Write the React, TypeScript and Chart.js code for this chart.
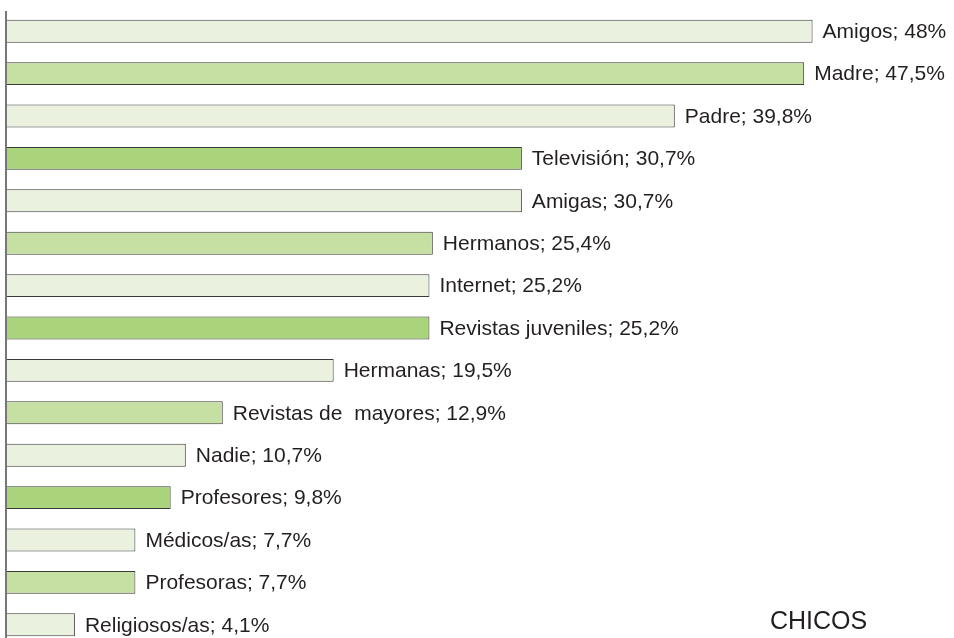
import React, { useEffect, useRef } from "react";
import { Chart, registerables } from "chart.js";

Chart.register(...registerables);

const categories = [
  "Amigos",
  "Madre",
  "Padre",
  "Televisión",
  "Amigas",
  "Hermanos",
  "Internet",
  "Revistas juveniles",
  "Hermanas",
  "Revistas de  mayores",
  "Nadie",
  "Profesores",
  "Médicos/as",
  "Profesoras",
  "Religiosos/as",
];

const values = [48, 47.5, 39.8, 30.7, 30.7, 25.4, 25.2, 25.2, 19.5, 12.9, 10.7, 9.8, 7.7, 7.7, 4.1];

const valueLabels = ["48%", "47,5%", "39,8%", "30,7%", "30,7%", "25,4%", "25,2%", "25,2%", "19,5%", "12,9%", "10,7%", "9,8%", "7,7%", "7,7%", "4,1%"];

const LIGHT = "#eaf2df";
const MEDIUM = "#c6e0a4";
const DARK = "#a9d47b";
const barColors = [LIGHT, MEDIUM, LIGHT, DARK, LIGHT, MEDIUM, LIGHT, DARK, LIGHT, MEDIUM, LIGHT, DARK, LIGHT, MEDIUM, LIGHT];

const title = "CHICOS";

const FONT = "'Liberation Sans', Arial, Helvetica, sans-serif";

const labelPlugin = {
  id: "barLabels",
  afterDatasetsDraw(chart: any) {
    const ctx = chart.ctx;
    const meta = chart.getDatasetMeta(0);
    ctx.save();
    ctx.fillStyle = "#231f20";
    ctx.font = `21px ${FONT}`;
    ctx.textBaseline = "middle";
    ctx.textAlign = "left";
    meta.data.forEach((bar: any, i: number) => {
      ctx.fillText(`${categories[i]}; ${valueLabels[i]}`, bar.x + 10, bar.y + 1);
    });
    // axis line
    const left = chart.chartArea.left;
    ctx.strokeStyle = "#777777";
    ctx.lineWidth = 2;
    ctx.beginPath();
    ctx.moveTo(left, 11);
    ctx.lineTo(left, chart.height);
    ctx.stroke();
    // title
    const last = meta.data[meta.data.length - 1];
    ctx.font = `25px ${FONT}`;
    ctx.fillText(title, 770, last.y - 3);
    ctx.restore();
  },
};

export default function App() {
  const ref = useRef<HTMLCanvasElement | null>(null);
  useEffect(() => {
    if (!ref.current) return;
    const chart = new Chart(ref.current, {
      type: "bar",
      data: {
        labels: categories,
        datasets: [
          {
            data: values,
            backgroundColor: barColors,
            borderColor: "#3a3a3a",
            borderWidth: { top: 1, right: 1, bottom: 1, left: 0 },
            borderSkipped: false,
            categoryPercentage: 1,
            barPercentage: 0.54,
          },
        ],
      },
      options: {
        indexAxis: "y",
        responsive: false,
        animation: false,
        layout: { padding: { left: 6, right: 7, top: 10, bottom: 8 } },
        plugins: { legend: { display: false }, tooltip: { enabled: false } },
        scales: {
          x: { display: false, min: 0, max: 56 },
          y: { display: false },
        },
      },
      plugins: [labelPlugin],
    });
    return () => chart.destroy();
  }, []);
  return (
    <div style={{ position: "absolute", left: 0, top: 0, width: 954, height: 638, overflow: "hidden", background: "#fff" }}>
      <canvas ref={ref} width={954} height={654} style={{ display: "block" }} />
    </div>
  );
}
